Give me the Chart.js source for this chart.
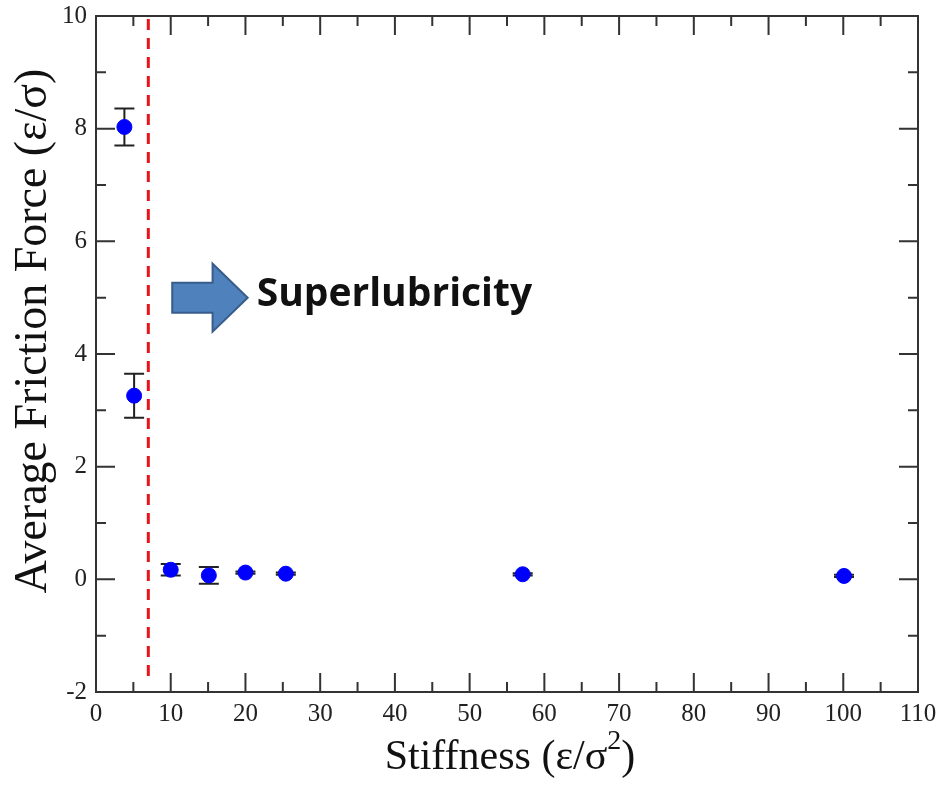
<!DOCTYPE html>
<html>
<head>
<meta charset="utf-8">
<script src="https://cdn.jsdelivr.net/npm/chart.js@4/dist/chart.umd.min.js"></script>
<style>
  html, body { margin: 0; padding: 0; background: #fff; }
</style>
</head>
<body>
<canvas id="friction" width="947" height="790"></canvas>
<script>
// values
const stiffness = [3.8, 5.1, 10.0, 15.1, 20.0, 25.4, 57.1, 100.1];
const friction = [8.03, 3.26, 0.17, 0.07, 0.12, 0.10, 0.09, 0.06];
const frictionErr = [0.33, 0.39, 0.10, 0.15, 0.02, 0.02, 0.02, 0.02];
const xTicks = [0, 10, 20, 30, 40, 50, 60, 70, 80, 90, 100, 110];
const yTicks = [-2, 0, 2, 4, 6, 8, 10];
const thresholdX = 7;
const noteText = 'Superlubricity';
const xTitle = ['Stiffness (ε/σ', '2', ')'];
const yTitle = 'Average Friction Force (ε/σ)';

const serif = "'Liberation Serif', 'Times New Roman', serif";

// error bars, box, inward ticks, threshold line and the arrow note
const decorations = {
  id: 'decorations',
  beforeDatasetsDraw(chart) {
    const { ctx, chartArea: a, scales: { x, y } } = chart;
    ctx.save();

    // threshold line
    ctx.strokeStyle = '#e8141b';
    ctx.lineWidth = 3;
    ctx.setLineDash([11, 8]);
    ctx.beginPath();
    ctx.moveTo(x.getPixelForValue(thresholdX), a.top + 3);
    ctx.lineTo(x.getPixelForValue(thresholdX), a.bottom - 8);
    ctx.stroke();
    ctx.setLineDash([]);

    // error bars
    ctx.strokeStyle = '#222';
    ctx.lineWidth = 2;
    stiffness.forEach((sx, i) => {
      const px = x.getPixelForValue(sx);
      const top = y.getPixelForValue(friction[i] + frictionErr[i]);
      const bot = y.getPixelForValue(friction[i] - frictionErr[i]);
      ctx.beginPath();
      ctx.moveTo(px, top); ctx.lineTo(px, bot);
      ctx.moveTo(px - 10, top); ctx.lineTo(px + 10, top);
      ctx.moveTo(px - 10, bot); ctx.lineTo(px + 10, bot);
      ctx.stroke();
    });

    // box
    ctx.strokeStyle = '#333';
    ctx.lineWidth = 2;
    ctx.strokeRect(a.left, a.top, a.right - a.left, a.bottom - a.top);

    // inward ticks, minor halfway between the majors
    ctx.beginPath();
    for (let v = 0; v <= 110; v += 5) {
      const len = v % 10 === 0 ? 19 : 10;
      const px = x.getPixelForValue(v);
      ctx.moveTo(px, a.bottom); ctx.lineTo(px, a.bottom - len);
      ctx.moveTo(px, a.top); ctx.lineTo(px, a.top + len);
    }
    for (let v = -2; v <= 10; v += 1) {
      const len = v % 2 === 0 ? 19 : 10;
      const py = y.getPixelForValue(v);
      ctx.moveTo(a.left, py); ctx.lineTo(a.left + len, py);
      ctx.moveTo(a.right, py); ctx.lineTo(a.right - len, py);
    }
    ctx.stroke();

    // block arrow
    const xs = x.getPixelForValue(10.2), xh = x.getPixelForValue(15.6), xt = x.getPixelForValue(20.3);
    const yc = y.getPixelForValue(5.0);
    ctx.beginPath();
    ctx.moveTo(xs, yc - 15);
    ctx.lineTo(xh, yc - 15);
    ctx.lineTo(xh, yc - 34);
    ctx.lineTo(xt, yc);
    ctx.lineTo(xh, yc + 34);
    ctx.lineTo(xh, yc + 15);
    ctx.lineTo(xs, yc + 15);
    ctx.closePath();
    ctx.fillStyle = '#4f81bd';
    ctx.fill();
    ctx.strokeStyle = '#385d8a';
    ctx.lineWidth = 2;
    ctx.stroke();

    ctx.fillStyle = '#111';
    ctx.font = "bold 39px 'Open Sans', sans-serif";
    ctx.textBaseline = 'alphabetic';
    ctx.fillText(noteText, x.getPixelForValue(21.5), y.getPixelForValue(4.85));
    ctx.restore();
  },
  afterDraw(chart) {
    const { ctx, chartArea: a } = chart;
    ctx.save();
    ctx.fillStyle = '#111';
    ctx.textBaseline = 'alphabetic';

    // x title with a raised 2
    const big = `42px ${serif}`, small = `28px ${serif}`;
    ctx.font = big;
    const w0 = ctx.measureText(xTitle[0]).width, w2 = ctx.measureText(xTitle[2]).width;
    ctx.font = small;
    const w1 = ctx.measureText(xTitle[1]).width;
    let tx = (a.left + a.right) / 2 + 3 - (w0 + w1 + w2) / 2;
    const base = 769;
    ctx.font = big;
    ctx.fillText(xTitle[0], tx, base);
    tx += w0;
    ctx.font = small;
    ctx.fillText(xTitle[1], tx, base - 20);
    tx += w1;
    ctx.font = big;
    ctx.fillText(xTitle[2], tx, base);

    // y title, rotated
    ctx.translate(46, 331);
    ctx.rotate(-Math.PI / 2);
    ctx.font = `46px ${serif}`;
    ctx.textAlign = 'center';
    ctx.fillText(yTitle, 0, 0);
    ctx.restore();
  }
};

new Chart(document.getElementById('friction'), {
  type: 'scatter',
  data: {
    datasets: [{
      data: stiffness.map((v, i) => ({ x: v, y: friction[i] })),
      backgroundColor: '#0000ff',
      borderColor: '#0000ff',
      pointRadius: 7.5,
      pointHoverRadius: 7.5,
    }],
  },
  options: {
    responsive: false,
    animation: false,
    layout: { padding: { top: 16, right: 29 } },
    plugins: { legend: { display: false }, tooltip: { enabled: false } },
    scales: {
      x: {
        min: 0, max: 110,
        afterFit: (s) => { s.height = 98; s.paddingLeft = 0; s.paddingRight = 0; },
        afterBuildTicks: (s) => { s.ticks = xTicks.map((v) => ({ value: v })); },
        grid: { display: false, drawTicks: false },
        border: { display: false },
        ticks: { padding: 7, color: '#222', font: { family: serif, size: 25 } },
      },
      y: {
        min: -2, max: 10,
        afterFit: (s) => { s.width = 96; s.paddingTop = 0; s.paddingBottom = 0; },
        afterBuildTicks: (s) => { s.ticks = yTicks.map((v) => ({ value: v })); },
        grid: { display: false, drawTicks: false },
        border: { display: false },
        ticks: { padding: 9, color: '#222', font: { family: serif, size: 25 } },
      },
    },
  },
  plugins: [decorations],
});
</script>
</body>
</html>
